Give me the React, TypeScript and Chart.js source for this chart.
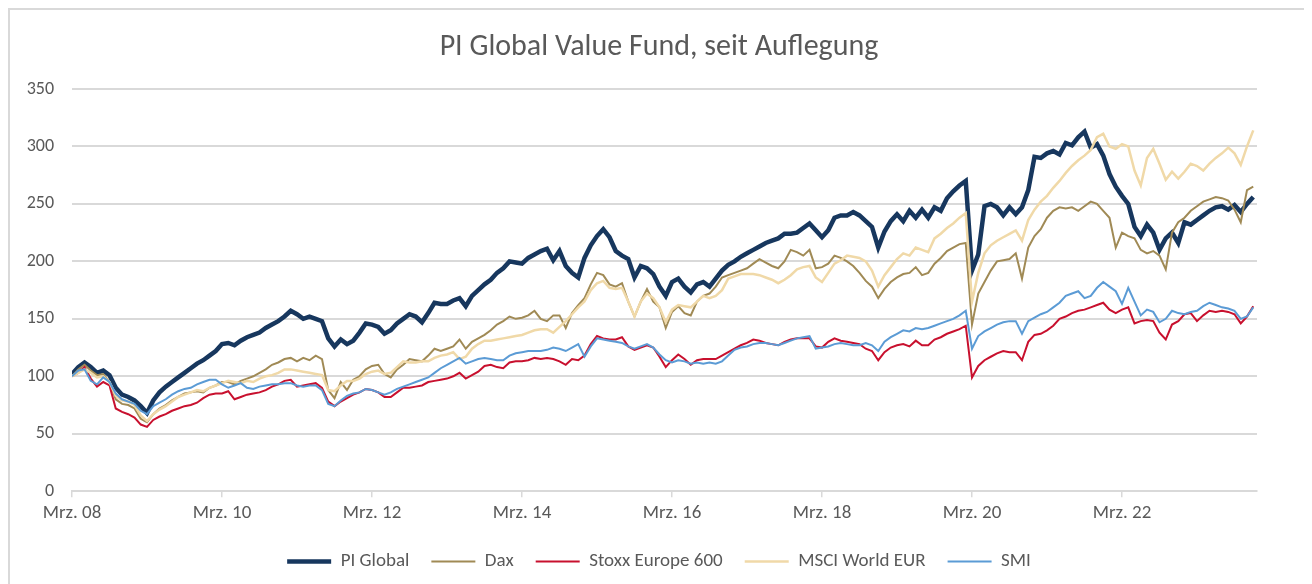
import React, { useEffect, useRef } from "react";
import { Chart, registerables } from "chart.js";

Chart.register(...registerables);

// Tick labels (x axis: months since Mar 2008)
const tickMonths = [0, 24, 48, 72, 96, 120, 144, 168];
const tickLabels = ["Mrz. 08", "Mrz. 10", "Mrz. 12", "Mrz. 14", "Mrz. 16", "Mrz. 18", "Mrz. 20", "Mrz. 22"];

// Monthly values, Mar 2008 onwards (index = months since Mar 2008)
const piGlobal = [
  102, 108, 112, 108, 103, 105, 101, 90, 84, 82, 79, 74,
  68, 79, 86, 91, 95, 99, 103, 107, 111, 114, 118, 122,
  128, 129, 127, 131, 134, 136, 138, 142, 145, 148, 152, 157,
  154, 150, 152, 150, 148, 133, 126, 132, 128, 131, 138, 146,
  145, 143, 137, 140, 146, 150, 154, 152, 147, 155, 164, 163,
  163, 166, 168, 161, 170, 175, 180, 184, 190, 194, 200, 199,
  198, 203, 206, 209, 211, 201, 209, 196, 190, 186, 203, 214,
  222, 228, 221, 209, 205, 202, 186, 196, 194, 189, 178, 170,
  182, 185, 178, 173, 180, 182, 178, 185, 192, 197, 200, 204,
  207, 210, 213, 216, 218, 220, 224, 224, 225, 229, 233, 227,
  221, 227, 238, 240, 240, 243, 240, 235, 230, 212, 226, 235,
  241, 235, 244, 238, 245, 238, 247, 244, 255, 261, 266, 270,
  192, 206, 248, 250, 247, 240, 247, 241, 247, 262, 291, 290,
  294, 296, 293, 303, 301, 308, 313, 299, 302, 292, 276, 265,
  257, 250, 230, 222, 232, 225, 210, 220, 225, 216, 234, 232,
  236, 240, 244, 247, 248, 245, 249, 243, 250, 256,
];

const dax = [
  100, 106, 110, 105, 101, 102, 95, 80, 76, 75, 72, 63,
  60, 67, 72, 75, 79, 82, 85, 86, 87, 86, 90, 92,
  95, 95, 93, 96, 98, 100, 103, 106, 110, 112, 115, 116,
  113, 116, 114, 118, 115, 88, 81, 95, 88, 97, 100, 106,
  109, 110, 102, 99, 106, 110, 115, 114, 113, 118, 124, 122,
  124, 126, 132, 124, 130, 133, 136, 140, 145, 148, 152, 150,
  151, 153, 157, 150, 148, 153, 153, 142, 155, 162, 168, 180,
  190, 188, 180, 178, 181, 165, 152, 165, 176, 165, 160, 142,
  156, 161, 155, 153, 165, 170, 172, 178, 186, 188, 190, 192,
  194, 198, 202, 199, 196, 194, 200, 210, 208, 205, 210, 194,
  195, 198, 205, 203, 200, 196, 190, 183, 178, 168, 176, 182,
  186, 189, 190, 195, 188, 190, 198, 203, 209, 212, 215, 216,
  145, 172, 182, 192, 200, 201, 202, 207, 185, 212, 222, 228,
  238, 244, 247, 246, 247, 244, 248, 252, 250, 244, 238, 212,
  225, 222, 220, 210, 207, 209, 205, 193, 225, 234, 238, 244,
  248, 252, 254, 256, 255, 253, 245, 234, 262, 265,
];

const stoxx600 = [
  100, 103, 108, 98, 91, 95, 92, 72, 69, 67, 64, 58,
  56, 62, 65, 67, 70, 72, 74, 75, 77, 81, 84, 85,
  85, 87, 80, 82, 84, 85, 86, 88, 91, 93, 96, 97,
  91, 92, 93, 94, 90, 78, 74, 78, 81, 84, 86, 89,
  88, 86, 82, 82, 86, 90, 90, 91, 92, 95, 96, 97,
  98, 100, 103, 98, 101, 104, 109, 110, 108, 107, 112, 113,
  113, 114, 116, 115, 116, 115, 113, 110, 115, 114, 118, 128,
  135, 133, 132, 132, 134, 126, 123, 125, 127, 125, 117, 108,
  114, 119, 115, 110, 114, 115, 115, 115, 118, 121, 124, 127,
  129, 132, 131, 129, 128, 127, 130, 132, 133, 133, 133, 126,
  125, 130, 133, 131, 130, 129, 128, 124, 122, 114, 121, 125,
  127, 128, 126, 131, 127, 127, 132, 134, 137, 139, 141, 144,
  99, 109, 114, 117, 120, 122, 121, 121, 114, 130, 136, 137,
  140, 144, 150, 152, 155, 157, 158, 160, 162, 164, 158, 155,
  158, 160, 146, 148, 149, 148, 138, 132, 145, 148, 154, 155,
  148, 153, 157, 156, 157, 156, 154, 146, 152, 161,
];

const msciWorld = [
  100, 103, 106, 103, 99, 100, 95, 83, 79, 78, 75, 66,
  61, 67, 71, 74, 78, 82, 84, 86, 88, 87, 90, 92,
  94, 96, 95, 94, 96, 95, 98, 100, 101, 103, 106, 106,
  105, 104, 103, 102, 101, 88, 87, 92, 96, 96, 98, 102,
  104, 105, 102, 103, 108, 113, 112, 112, 113, 113, 116, 118,
  119, 121, 115, 117, 124, 128, 131, 131, 132, 133, 134, 135,
  136, 138, 140, 141, 141, 138, 143, 148, 154, 160, 165, 175,
  181, 183, 177, 176, 177, 165, 152, 165, 172, 168, 160, 147,
  158, 162, 161, 160, 165, 170, 168, 170, 175, 185, 187, 189,
  189, 189, 188, 186, 184, 181, 184, 188, 193, 195, 196, 186,
  182, 190, 198, 201, 205, 204, 203, 200, 192, 178, 188, 195,
  202, 207, 205, 212, 210, 208, 220, 224, 229, 233, 238, 242,
  165, 190, 207, 214, 218, 221, 224, 227, 218, 236, 245, 252,
  257, 264, 270, 277, 283, 288, 292, 297, 308, 311, 300, 298,
  302, 300, 279, 266, 290, 298, 285, 271, 278, 272, 278, 285,
  283, 279, 285, 290, 294, 299, 294, 284, 300, 314,
];

const smi = [
  100, 105, 106, 96, 93, 99, 95, 85, 80, 78, 76, 70,
  67, 74, 77, 80, 84, 87, 89, 90, 93, 95, 97, 97,
  93, 90, 92, 94, 90, 89, 91, 92, 93, 93, 94, 94,
  92, 91, 92, 92, 88, 76, 74, 79, 83, 85, 86, 89,
  88, 86, 84, 86, 89, 91, 93, 95, 97, 99, 103, 107,
  110, 113, 116, 111, 113, 115, 116, 115, 114, 114, 118, 120,
  121, 122, 122, 122, 123, 125, 124, 122, 125, 128, 117, 126,
  133, 132, 131, 130, 129, 126, 124, 126, 128, 125, 119, 114,
  112, 114, 113, 111, 112, 111, 112, 111, 113, 118, 123, 125,
  126, 128, 129, 129, 128, 127, 129, 131, 133, 134, 135, 124,
  125, 126, 128, 129, 128, 127, 127, 129, 127, 122, 130, 134,
  137, 140, 139, 142, 141, 142, 144, 146, 148, 150, 153, 157,
  124, 135, 139, 142, 145, 147, 148, 148, 137, 148, 151, 154,
  156, 160, 164, 170, 172, 174, 168, 170, 177, 182, 178, 174,
  163, 177, 165, 153, 158, 156, 147, 150, 157, 155, 154, 156,
  157, 161, 164, 162, 160, 159, 157, 150, 152, 160,
];

const seriesNames = ["PI Global", "Dax", "Stoxx Europe 600", "MSCI World EUR", "SMI"];
const seriesData = [piGlobal, dax, stoxx600, msciWorld, smi];
const seriesColors = ["#17375e", "#a08a55", "#c8102e", "#f0d9a8", "#5b9bd5"];
const seriesWidths = [4.5, 2, 2, 2.5, 2];

const FONT = "Carlito, Lato, 'Open Sans', sans-serif";
const TEXT = "#595959";
const GRID = "#d9d9d9";

export default function App() {
  const ref = useRef<HTMLCanvasElement | null>(null);

  useEffect(() => {
    if (!ref.current) return;
    const datasets = seriesData.map((vals, i) => ({
      label: seriesNames[i],
      data: vals.map((v, k) => ({ x: k, y: v })),
      borderColor: seriesColors[i],
      backgroundColor: seriesColors[i],
      borderWidth: seriesWidths[i],
      pointRadius: 0,
      tension: 0,
      fill: false,
      order: seriesNames.length - 1 - i,
    }));
    const chart = new Chart(ref.current, {
      type: "line",
      data: { datasets },
      options: {
        animation: false,
        responsive: true,
        maintainAspectRatio: false,
        layout: { padding: { left: 0, right: 0, top: 0, bottom: 7 } },
        plugins: {
          tooltip: { enabled: false },
          title: {
            display: true,
            text: "PI Global Value Fund, seit Auflegung",
            color: TEXT,
            font: { family: FONT, size: 30, weight: "normal" },
            padding: { top: 19, bottom: 24 },
          },
          legend: {
            position: "bottom",
            labels: {
              color: TEXT,
              font: { family: FONT, size: 19 },
              usePointStyle: true,
              pointStyle: "line",
              pointStyleWidth: 44,
              boxHeight: 12,
              padding: 22,
              generateLabels: (c: any) =>
                c.data.datasets.map((ds: any, i: number) => ({
                  text: ds.label,
                  fillStyle: ds.borderColor,
                  strokeStyle: ds.borderColor,
                  lineWidth: ds.borderWidth,
                  pointStyle: "line",
                  lineCap: "butt",
                  hidden: false,
                  datasetIndex: i,
                  fontColor: TEXT,
                })),
            },
          },
        },
        scales: {
          x: {
            type: "linear",
            min: 0,
            max: 189.6,
            afterBuildTicks: (s: any) => {
              s.ticks = tickMonths.map((v) => ({ value: v }));
            },
            ticks: {
              autoSkip: false,
              maxRotation: 0,
              color: TEXT,
              font: { family: FONT, size: 19 },
              padding: 5,
              callback: (v: any) => {
                const idx = tickMonths.indexOf(Number(v));
                return idx >= 0 ? tickLabels[idx] : "";
              },
            },
            grid: { drawOnChartArea: false, drawTicks: true, tickLength: 6, color: GRID, lineWidth: 1.5 },
            border: { display: true, color: GRID, width: 2 },
          },
          y: {
            min: 0,
            max: 350,
            afterFit: (s: any) => {
              s.width = 62;
            },
            ticks: {
              stepSize: 50,
              color: TEXT,
              font: { family: FONT, size: 18 },
              padding: 18,
            },
            grid: { color: GRID, lineWidth: 2, drawTicks: false },
            border: { display: false },
          },
          yRight: {
            position: "right",
            min: 0,
            max: 350,
            afterFit: (s: any) => {
              s.width = 51;
            },
            ticks: { display: false },
            grid: { display: false, drawTicks: false },
            border: { display: false },
          },
        },
      },
    });
    return () => chart.destroy();
  }, []);

  return (
    <div style={{ width: 1298, height: 578, border: "2px solid #d9d9d9", position: "relative", background: "#fff" }}>
      <canvas ref={ref} />
    </div>
  );
}
